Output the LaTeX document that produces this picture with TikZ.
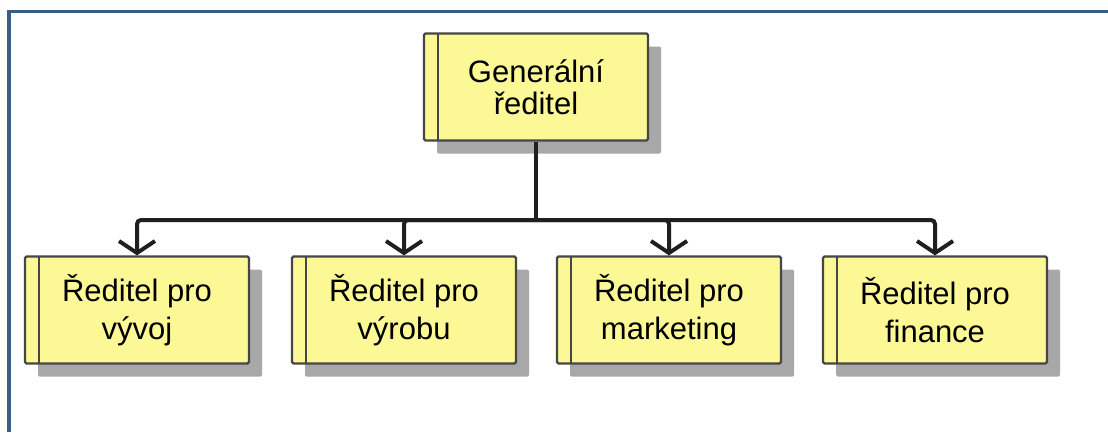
\documentclass[tikz,border=0pt]{standalone}
\usepackage{fontspec}
\setmainfont{Liberation Sans}
\usetikzlibrary{arrows.meta,shadows}
\definecolor{boxfill}{RGB}{252,248,150}
\definecolor{boxline}{RGB}{70,70,70}
\definecolor{framec}{RGB}{58,94,134}
\definecolor{shadowc}{RGB}{168,168,168}
\tikzset{
  orgbox/.style={draw=boxline, line width=2.2pt, fill=boxfill, rounded corners=1.5pt,
    minimum width=224pt, minimum height=107pt, inner sep=0pt, align=center,
    font=\fontsize{31}{32}\selectfont,
    drop shadow={shadow xshift=13pt, shadow yshift=-13pt, fill=shadowc, opacity=1},
    path picture={\draw[boxline, line width=2.2pt]
      ([xshift=14pt]path picture bounding box.north west) --
      ([xshift=14pt]path picture bounding box.south west);}},
  lower/.style={font=\fontsize{31}{38}\selectfont},
  trunk/.style={line width=4pt, draw=black!88},
  conn/.style={trunk, rounded corners=4pt,
    -{Straight Barb[length=12pt,width=36pt]}}
}
\begin{document}
\begin{tikzpicture}[x=1pt,y=-1pt]
\useasboundingbox (0,0) rectangle (1108,432);
\fill[white] (0,0) rectangle (1108,432);
\draw[framec, line width=3.5pt] (9,432) -- (9,11.5) -- (1108,11.5);
\node[orgbox] (gr) at (536,87) {Generální\\ředitel};
\node[orgbox,lower] (r1) at (137,310) {Ředitel pro\\vývoj};
\node[orgbox,lower] (r2) at (404,310) {Ředitel pro\\výrobu};
\node[orgbox,lower] (r3) at (669,310) {Ředitel pro\\marketing};
\node[orgbox,lower] (r4) at (935,310) {Ředitel pro\\finance};
\coordinate (bus) at (536,220);
\draw[trunk] (gr.south) -- ([yshift=-2pt]bus);
\foreach \n in {r1,r2,r3,r4}{
  \draw[conn] (bus) -| (\n.north);
}
\end{tikzpicture}
\end{document}
